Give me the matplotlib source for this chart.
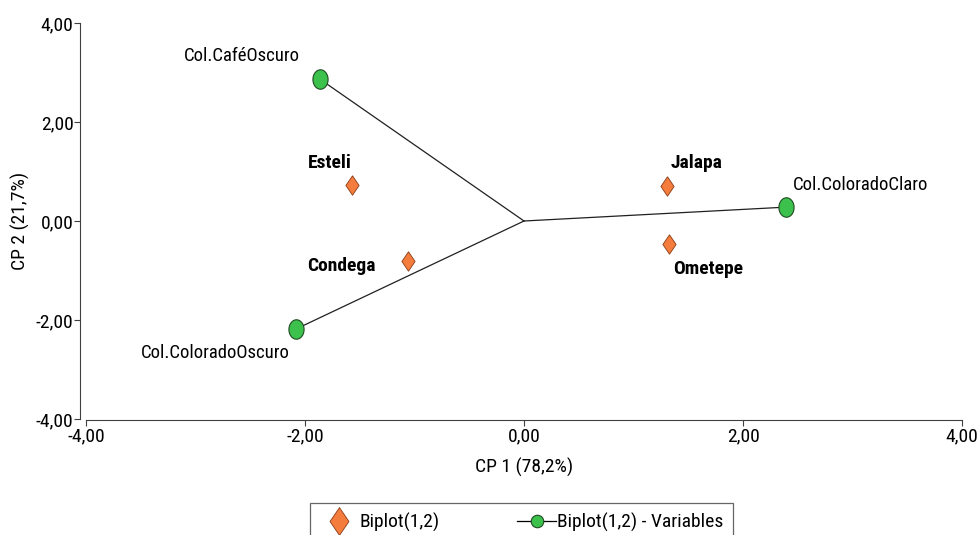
import numpy as np
import matplotlib.pyplot as plt
from matplotlib import font_manager

# pick a narrow sans if one is installed, else Liberation Sans
fam, stretch = 'Liberation Sans', 'normal'
for f in font_manager.fontManager.ttflist:
    if f.name in ('Liberation Sans Narrow', 'Arial Narrow', 'Roboto Condensed'):
        fam, stretch = f.name, 'normal'
        break
else:
    for f in font_manager.fontManager.ttflist:
        if f.name == 'DejaVu Sans' and f.stretch in ('condensed', 'semi-condensed', 500):
            fam, stretch = 'DejaVu Sans', 'condensed'
            break
plt.rcParams['font.family'] = [fam, 'DejaVu Sans']
plt.rcParams['font.stretch'] = stretch

# sites (observations)
sites = ['Esteli', 'Condega', 'Jalapa', 'Ometepe']
site_x = [-1.57, -1.06, 1.31, 1.32]
site_y = [0.73, -0.81, 0.71, -0.46]

# variables
variables = ['Col.CaféOscuro', 'Col.ColoradoClaro', 'Col.ColoradoOscuro']
var_x = [-1.86, 2.39, -2.08]
var_y = [2.86, 0.28, -2.18]

ticks = [-4, -2, 0, 2, 4]
tick_labels = ['-4,00', '-2,00', '0,00', '2,00', '4,00']

# tall markers like the reference
diamond = [(0, 1), (0.68, 0), (0, -1), (-0.68, 0), (0, 1)]
t = np.linspace(0, 2 * np.pi, 40)
oval = list(zip(0.78 * np.cos(t), np.sin(t)))

fig = plt.figure(figsize=(9.78, 5.35), dpi=100)
ax = fig.add_axes([86/978, 116/535, 876/978, 396/535])

for vx, vy in zip(var_x, var_y):
    ax.plot([0, vx], [0, vy], color='#202020', lw=0.9, zorder=1)
h2, = ax.plot(var_x, var_y, marker=oval, ms=14, mfc='#3cc24c', mec='#1f4a22', mew=0.8,
              ls='none', zorder=3)
h1, = ax.plot(site_x, site_y, marker=diamond, ms=14, mfc='#f47c3c', mec='#8a3c14', mew=0.6,
              ls='none', zorder=3)

# site labels (bold)
site_off = [(-0.20, 0.44), (-0.61, -0.10), (0.27, 0.46), (0.36, -0.51)]
for s, x, y, (dx, dy) in zip(sites, site_x, site_y, site_off):
    ax.text(x + dx, y + dy, s, fontsize=14, fontweight='bold', ha='center', va='center')

ax.text(-2.05, 3.33, variables[0], fontsize=13.5, ha='right', va='center')
ax.text(2.46, 0.73, variables[1], fontsize=13.5, ha='left', va='center')
ax.text(-2.14, -2.66, variables[2], fontsize=13.5, ha='right', va='center')

ax.set_xlim(-4, 4)
ax.set_ylim(-4, 4)
ax.set_xticks(ticks)
ax.set_xticklabels(tick_labels)
ax.set_yticks(ticks)
ax.set_yticklabels(tick_labels)
ax.tick_params(labelsize=14, length=4, width=0.8, pad=1, color='#404040')
ax.spines['top'].set_visible(False)
ax.spines['right'].set_visible(False)
ax.spines['left'].set_position(('outward', 4))
ax.spines['bottom'].set_position(('outward', 1))
for sp in ('left', 'bottom'):
    ax.spines[sp].set_color('#404040')
ax.set_xlabel('CP 1 (78,2%)', fontsize=14, labelpad=9)
ax.set_ylabel('CP 2 (21,7%)', fontsize=14, labelpad=4)

leg = fig.legend([h1, h2], ['Biplot(1,2)', 'Biplot(1,2) - Variables'],
                 loc='upper left', bbox_to_anchor=(310/978, 32/535), ncol=2,
                 borderaxespad=0, frameon=True, fancybox=False, edgecolor='#404040',
                 fontsize=14, handlelength=2.0, handletextpad=0.05, columnspacing=4.0,
                 borderpad=0.5)
leg.get_frame().set_linewidth(0.9)
leg.legend_handles[0].set_markersize(20)
leg.legend_handles[1].set_linestyle('-')
leg.legend_handles[1].set_linewidth(0.9)
leg.legend_handles[1].set_color('black')
leg.legend_handles[1].set_marker('o')
leg.legend_handles[1].set_markerfacecolor('#3cc24c')
leg.legend_handles[1].set_markeredgecolor('#1f4a22')
leg.legend_handles[1].set_markersize(9)

fig.savefig('out.png', dpi=100)
